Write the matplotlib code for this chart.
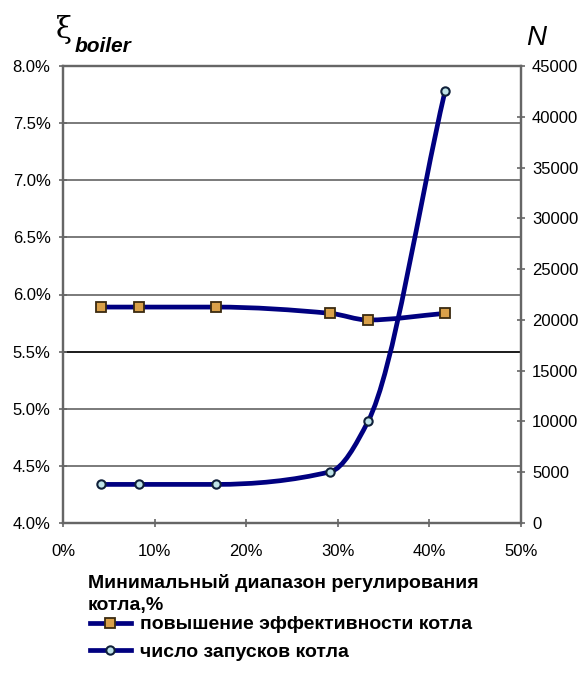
import numpy as np
import matplotlib.pyplot as plt
from matplotlib.path import Path
from matplotlib.patches import PathPatch
from matplotlib.lines import Line2D
from matplotlib.ticker import FuncFormatter

plt.rcParams['font.family'] = ['Liberation Sans', 'DejaVu Sans']

# minimum boiler control range, %
range_pct = [4.17, 8.33, 16.7, 29.2, 33.3, 41.7]
# boiler efficiency gain, %
efficiency_gain = [5.89, 5.89, 5.89, 5.835, 5.777, 5.835]
# number of boiler starts
n_starts = [3800, 3800, 3800, 5050, 10000, 42500]

x_ticks = [0, 10, 20, 30, 40, 50]
left_ticks = [4.0, 4.5, 5.0, 5.5, 6.0, 6.5, 7.0, 7.5, 8.0]
right_ticks = list(range(0, 45001, 5000))

x_label = 'Минимальный диапазон регулирования\nкотла,%'
label_eff = 'повышение эффективности котла'
label_n = 'число запусков котла'

LINE = '#000080'


def smooth_path(xs, ys):
    # monotone cubic (Fritsch-Carlson) segments written as Bezier curves
    x = np.asarray(xs, float)
    y = np.asarray(ys, float)
    h = np.diff(x)
    d = np.diff(y) / h
    m = np.zeros_like(y)
    m[0], m[-1] = d[0], d[-1]
    for i in range(1, len(x) - 1):
        if d[i - 1] * d[i] > 0:
            w1 = 2 * h[i] + h[i - 1]
            w2 = h[i] + 2 * h[i - 1]
            m[i] = (w1 + w2) / (w1 / d[i - 1] + w2 / d[i])
    verts = [(x[0], y[0])]
    codes = [Path.MOVETO]
    for i in range(len(x) - 1):
        verts += [(x[i] + h[i] / 3, y[i] + m[i] * h[i] / 3),
                  (x[i + 1] - h[i] / 3, y[i + 1] - m[i + 1] * h[i] / 3),
                  (x[i + 1], y[i + 1])]
        codes += [Path.CURVE4] * 3
    return Path(verts, codes)


fig = plt.figure(figsize=(5.87, 6.89), dpi=100)
ax = fig.add_axes([63 / 587, 166 / 689, 458 / 587, 457 / 689])
ax2 = ax.twinx()

ax.set_xlim(0, 50)
ax.set_ylim(4.0, 8.0)
ax2.set_ylim(0, 45000)

# horizontal grid on the left scale
for v in left_ticks[1:]:
    col = '#1a1a1a' if v == 5.5 else '#7a7a7a'
    ax.axhline(v, color=col, lw=1.4, zorder=1)

ax.add_patch(PathPatch(smooth_path(range_pct, efficiency_gain), fill=False,
                       edgecolor=LINE, lw=3.4, zorder=3, capstyle='butt'))
ax.plot(range_pct, efficiency_gain, ls='none', marker='s', ms=7,
        mfc='#d9a04a', mec='#3a2a10', mew=1.3, zorder=4)

ax2.add_patch(PathPatch(smooth_path(range_pct, n_starts), fill=False,
                        edgecolor=LINE, lw=3.4, zorder=3, capstyle='butt'))
ax2.plot(range_pct, n_starts, ls='none', marker='o', ms=6,
         mfc='#bfe3e8', mec='#10203a', mew=1.5, zorder=4)

ax.set_xticks(x_ticks)
ax.set_yticks(left_ticks)
ax2.set_yticks(right_ticks)
ax.xaxis.set_major_formatter(FuncFormatter(lambda v, p: f'{v:.0f}%'))
ax.yaxis.set_major_formatter(FuncFormatter(lambda v, p: f'{v:.1f}%'))
ax2.yaxis.set_major_formatter(FuncFormatter(lambda v, p: f'{v:.0f}'))

for a in (ax, ax2):
    for s in a.spines.values():
        s.set_color('#666666')
        s.set_linewidth(1.6)
ax.spines['top'].set_color('#7a7a7a')
ax.tick_params(axis='x', direction='inout', length=6, width=1.2, color='#666666',
               labelsize=12, pad=12)
ax.tick_params(axis='y', direction='inout', length=6, width=1.2, color='#666666',
               labelsize=12, pad=6)
ax2.tick_params(axis='y', direction='inout', length=6, width=1.2, color='#666666',
                labelsize=12, pad=5)

fig.text(88 / 587, 1 - 574 / 689, x_label, ha='left', va='top',
         fontsize=14, fontweight='bold', linespacing=1.4)

fig.text(56 / 587, 1 - 38 / 689, 'ξ', fontsize=21, ha='left', va='baseline',
         family='DejaVu Serif')
fig.text(75 / 587, 1 - 52 / 689, 'boiler', fontsize=15, ha='left',
         va='baseline', fontweight='bold', style='italic')
fig.text(526 / 587, 1 - 45 / 689, 'N', fontsize=20, ha='left', va='baseline',
         style='italic')

handles = [
    Line2D([], [], color=LINE, lw=3.4, marker='s', ms=7, mfc='#d9a04a',
           mec='#3a2a10', mew=1.3),
    Line2D([], [], color=LINE, lw=3.4, marker='o', ms=6, mfc='#bfe3e8',
           mec='#10203a', mew=1.5),
]
leg = fig.legend(handles, [label_eff, label_n], loc='upper left',
                 bbox_to_anchor=(80 / 587, 1 - 606 / 689), frameon=False,
                 handlelength=2.1, handletextpad=0.5, labelspacing=0.5,
                 prop={'size': 14, 'weight': 'bold'}, borderpad=0)

fig.savefig('out.png', dpi=100, facecolor='white')
